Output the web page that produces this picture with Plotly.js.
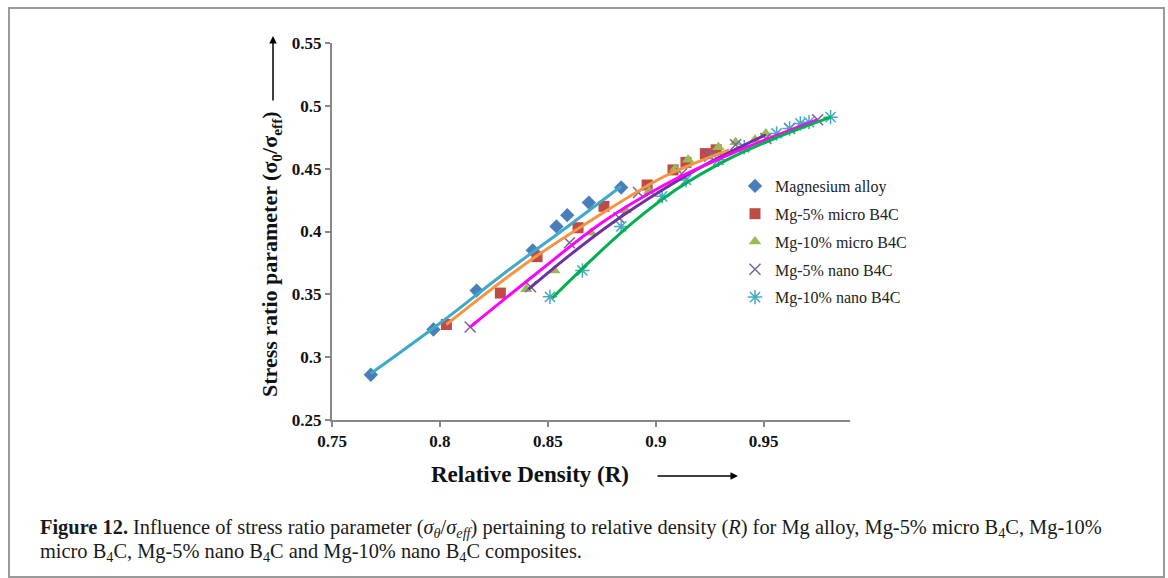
<!DOCTYPE html>
<html>
<head>
<meta charset="utf-8">
<script src="https://cdn.plot.ly/plotly-3.0.1.min.js"></script>
<style>html,body{margin:0;padding:0;background:#fff;}#chart{width:1168px;height:578px;}</style>
</head>
<body>
<div id="chart"></div>
<script>
// Series names
const seriesNames = ["Magnesium alloy", "Mg-5% micro B4C", "Mg-10% micro B4C", "Mg-5% nano B4C", "Mg-10% nano B4C"];

// Measured points (relative density R, stress ratio parameter)
const mgAlloyR = [0.768, 0.797, 0.817, 0.843, 0.854, 0.859, 0.869, 0.884];
const mgAlloyS = [0.286, 0.322, 0.353, 0.385, 0.404, 0.413, 0.423, 0.435];

const micro5R = [0.803, 0.828, 0.845, 0.864, 0.876, 0.896, 0.908, 0.914, 0.923, 0.928];
const micro5S = [0.326, 0.351, 0.380, 0.403, 0.420, 0.437, 0.449, 0.455, 0.462, 0.465];

const micro10R = [0.840, 0.853, 0.870, 0.886, 0.897, 0.909, 0.915, 0.929, 0.937, 0.946, 0.951];
const micro10S = [0.354, 0.369, 0.399, 0.417, 0.432, 0.450, 0.457, 0.467, 0.471, 0.473, 0.478];

const nano5R = [0.814, 0.842, 0.860, 0.883, 0.892, 0.912, 0.925, 0.937, 0.951, 0.962, 0.975];
const nano5S = [0.324, 0.356, 0.391, 0.411, 0.431, 0.446, 0.460, 0.469, 0.474, 0.482, 0.489];

const nano10R = [0.851, 0.866, 0.884, 0.903, 0.914, 0.929, 0.941, 0.956, 0.962, 0.967, 0.971, 0.981];
const nano10S = [0.348, 0.369, 0.404, 0.428, 0.441, 0.457, 0.467, 0.478, 0.482, 0.486, 0.487, 0.491];

// Trend lines
const trendMgR = [0.768, 0.800, 0.830, 0.860, 0.884];
const trendMgS = [0.287, 0.327, 0.367, 0.405, 0.436];
const trendMicro5R = [0.803, 0.841, 0.872, 0.903, 0.919, 0.934];
const trendMicro5S = [0.326, 0.376, 0.411, 0.443, 0.455, 0.465];
const trendMicro10R = [0.841, 0.860, 0.880, 0.903, 0.925, 0.951];
const trendMicro10S = [0.354, 0.381, 0.407, 0.433, 0.455, 0.477];
const trendNano5R = [0.814, 0.845, 0.875, 0.905, 0.935, 0.975];
const trendNano5S = [0.324, 0.367, 0.407, 0.438, 0.462, 0.489];
const trendNano10R = [0.852, 0.870, 0.890, 0.910, 0.933, 0.955, 0.981];
const trendNano10S = [0.347, 0.377, 0.408, 0.434, 0.457, 0.474, 0.491];

// Axis ticks
const xTicks = [0.75, 0.8, 0.85, 0.9, 0.95];
const xTickText = ["0.75", "0.8", "0.85", "0.9", "0.95"];
const yTicks = [0.25, 0.3, 0.35, 0.4, 0.45, 0.5, 0.55];
const yTickText = ["0.25", "0.3", "0.35", "0.4", "0.45", "0.5", "0.55"];

const serif = "Liberation Serif, Times New Roman, serif";

function pts(i, x, y, symbol, color, size, lineColor) {
  const m = {symbol: symbol, size: size, color: color};
  if (lineColor) m.line = {color: lineColor, width: 1.5};
  return {type: 'scatter', mode: 'markers', name: seriesNames[i], legendgroup: 'g' + i, x: x, y: y, marker: m, cliponaxis: false};
}
function trend(x, y, color) {
  return {type: 'scatter', mode: 'lines', x: x, y: y, showlegend: false, hoverinfo: 'skip',
    line: {color: color, width: 3, shape: 'spline', smoothing: 1}};
}

const data = [
  pts(0, mgAlloyR, mgAlloyS, 'diamond', '#4a7ebb', 11),
  pts(1, micro5R, micro5S, 'square', '#be4b48', 11),
  pts(2, micro10R, micro10S, 'triangle-up', '#98b954', 11),
  pts(3, nano5R, nano5S, 'x-thin-open', '#7d60a0', 11, '#7d60a0'),
  pts(4, nano10R, nano10S, 'asterisk-open', '#46aac5', 12, '#46aac5'),
  trend(trendMgR, trendMgS, '#3ea9c9'),
  trend(trendMicro5R, trendMicro5S, '#f79443'),
  trend(trendMicro10R, trendMicro10S, '#7030a0'),
  trend(trendNano5R, trendNano5S, '#ff00ff'),
  trend(trendNano10R, trendNano10S, '#00b050')
];

const L = 332, R = 850, T = 43, B = 420;
function px(p) { return (p - L) / (R - L); }
function py(p) { return (B - p) / (B - T); }

const layout = {
  width: 1168, height: 578,
  margin: {l: L, r: 1168 - R, t: T, b: 578 - B, pad: 0},
  paper_bgcolor: '#ffffff', plot_bgcolor: '#ffffff',
  showlegend: true,
  legend: {x: px(735), y: py(169), xanchor: 'left', yanchor: 'top', bgcolor: 'rgba(0,0,0,0)',
    font: {family: serif, size: 16, color: '#222'}, itemwidth: 30, tracegroupgap: 4, traceorder: 'grouped'},
  xaxis: {range: [0.75, 0.99], tickvals: xTicks, ticktext: xTickText, showgrid: false, zeroline: false,
    showline: true, linecolor: '#878787', linewidth: 2, ticks: 'outside', ticklen: 5, tickwidth: 2, tickcolor: '#878787',
    tickfont: {family: serif, size: 17, color: '#111', weight: 700}},
  yaxis: {range: [0.25, 0.55], tickvals: yTicks, ticktext: yTickText, showgrid: false, zeroline: false,
    showline: true, linecolor: '#878787', linewidth: 2, ticks: 'outside', ticklen: 5, tickwidth: 2, tickcolor: '#878787',
    tickfont: {family: serif, size: 17, color: '#111', weight: 700}},
  shapes: [
    {type: 'rect', xref: 'paper', yref: 'paper', x0: px(9), x1: px(1164), y0: py(577), y1: py(8),
     line: {color: '#9a9a9a', width: 2}, fillcolor: 'rgba(0,0,0,0)', layer: 'below'}
  ],
  annotations: [
    {xref: 'paper', yref: 'paper', x: px(530), y: py(474), xanchor: 'center', yanchor: 'middle', showarrow: false,
     text: '<b>Relative Density (R)</b>', font: {family: serif, size: 23, color: '#111'}},
    {xref: 'paper', yref: 'paper', x: px(271), y: py(254), xanchor: 'center', yanchor: 'middle', showarrow: false,
     textangle: -90, text: '<b>Stress ratio parameter (σ<sub>0</sub>/σ<sub>eff</sub>)</b>', font: {family: serif, size: 22, color: '#111'}},
    {xref: 'paper', yref: 'paper', x: px(738), y: py(476), ax: -82, ay: 0,
     showarrow: true, arrowhead: 2, arrowsize: 1, arrowwidth: 1.5, arrowcolor: '#000', text: ''},
    {xref: 'paper', yref: 'paper', x: px(273), y: py(36), ax: 0, ay: 66,
     showarrow: true, arrowhead: 2, arrowsize: 1, arrowwidth: 1.5, arrowcolor: '#000', text: ''},
    {xref: 'paper', yref: 'paper', x: px(38), y: py(528), xanchor: 'left', yanchor: 'middle', showarrow: false, align: 'left',
     text: '<b>Figure 12.</b> Influence of stress ratio parameter (<i>σ<sub>θ</sub></i>/<i>σ<sub>eff</sub></i>) pertaining to relative density (<i>R</i>) for Mg alloy, Mg-5% micro B<sub>4</sub>C, Mg-10%',
     font: {family: serif, size: 20.4, color: '#1a1a1a'}},
    {xref: 'paper', yref: 'paper', x: px(38), y: py(552), xanchor: 'left', yanchor: 'middle', showarrow: false, align: 'left',
     text: 'micro B<sub>4</sub>C, Mg-5% nano B<sub>4</sub>C and Mg-10% nano B<sub>4</sub>C composites.',
     font: {family: serif, size: 20.4, color: '#1a1a1a'}}
  ]
};

Plotly.newPlot('chart', data, layout, {displayModeBar: false, staticPlot: true});
</script>
</body>
</html>
